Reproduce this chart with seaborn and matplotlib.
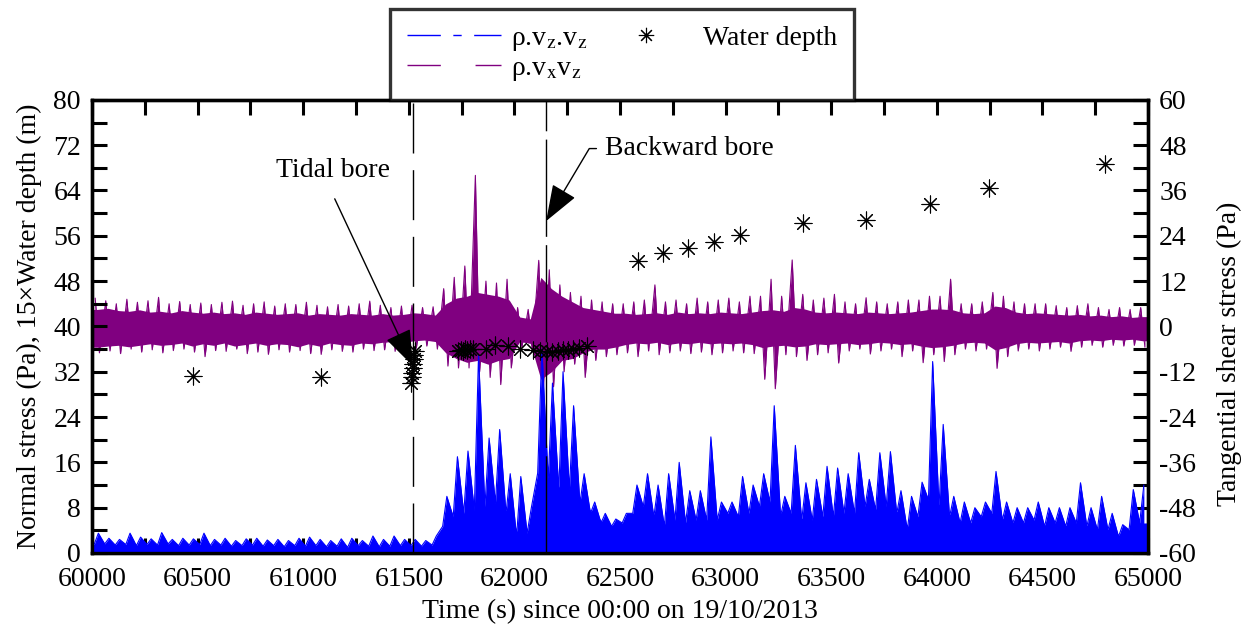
import numpy as np
import pandas as pd
import matplotlib
matplotlib.use("Agg")
import matplotlib.pyplot as plt
from matplotlib.lines import Line2D
from matplotlib.ticker import MultipleLocator
import seaborn as sns

# ====================== DATA ======================
# 50 s bins, 60000 ... 64950 s
bin_start = np.arange(60000, 65000, 50)

# tangential shear stress rho.vx.vz (Pa): dense band top / bottom, spike extremes per bin
shear_top = [4.5, 4.8, 4.2, 4.0, 4.4, 3.8, 4.0, 3.6, 4.2, 3.8,
             3.5, 3.8, 3.4, 3.6, 3.2, 3.8, 3.5, 3.2, 3.4, 3.6,
             3.0, 3.4, 3.2, 3.0, 3.4, 3.2, 3.0, 3.4, 3.0, 3.2,
             3.6, 3.4, 3.0, 6.0, 7.5, 8.0, 9.0, 8.5, 8.0, 7.0,
             2.5, 2.0, 13.0, 10.0, 8.0, 6.5, 5.0, 4.5, 4.0, 3.5,
             3.5, 3.2, 3.4, 3.6, 3.2, 3.8, 3.4, 3.6, 3.4, 3.8,
             3.6, 3.4, 3.8, 4.2, 4.4, 4.0, 5.0, 4.6, 3.8, 3.6,
             3.8, 3.6, 3.4, 3.8, 3.6, 3.4, 3.6, 3.8, 4.2, 4.6,
             4.6, 4.4, 3.6, 3.4, 3.6, 5.4, 5.0, 3.8, 3.4, 3.6,
             3.4, 3.2, 3.0, 3.2, 2.8, 3.0, 2.6, 2.8, 2.4, 2.6]
shear_bot = [-5.5, -5.2, -5.0, -5.4, -5.0, -4.6, -5.0, -4.8, -4.4, -5.2,
             -4.6, -5.0, -4.4, -5.2, -4.8, -4.4, -5.0, -4.6, -4.8, -5.4,
             -4.6, -5.2, -4.4, -4.8, -5.0, -4.4, -4.6, -4.2, -4.0, -4.2,
             -3.8, -3.6, -4.0, -7.0, -8.5, -9.5, -9.0, -10.0, -9.0, -8.5,
             -4.0, -4.5, -14.0, -12.0, -9.0, -8.5, -7.0, -6.0, -6.0, -5.5,
             -4.8, -4.4, -4.6, -4.2, -4.8, -4.4, -4.6, -4.2, -4.6, -4.4,
             -4.6, -4.4, -4.8, -5.6, -5.2, -5.0, -5.4, -5.2, -4.6, -4.8,
             -4.6, -4.4, -4.8, -4.6, -4.2, -4.4, -4.8, -4.6, -5.2, -5.6,
             -5.4, -5.0, -4.4, -4.2, -4.4, -6.2, -5.6, -4.6, -4.2, -4.4,
             -4.2, -4.0, -4.4, -3.8, -3.6, -3.8, -3.4, -3.6, -3.4, -3.8]
shear_up = [7.5, 6.8, 6.0, 7.2, 6.4, 6.8, 7.7, 6.0, 6.6, 5.8,
            6.2, 5.8, 6.4, 6.7, 5.6, 6.0, 6.5, 5.4, 6.0, 5.8,
            6.4, 5.6, 5.2, 5.8, 5.4, 6.0, 6.7, 5.6, 5.0, 5.4,
            5.6, 5.0, 5.2, 10.0, 13.0, 16.0, 40.0, 12.0, 11.5, 12.5,
            5.0, 4.5, 17.5, 15.0, 11.0, 9.0, 8.0, 7.0, 6.5, 6.0,
            6.0, 6.5, 7.0, 11.0, 6.5, 7.0, 6.0, 7.5, 6.5, 7.0,
            7.5, 6.5, 8.0, 8.0, 12.5, 8.0, 17.6, 8.5, 7.0, 7.5,
            8.5, 6.5, 6.0, 7.6, 6.5, 6.0, 6.5, 7.0, 7.0, 8.0,
            8.0, 12.5, 6.0, 6.0, 6.5, 9.0, 8.0, 6.5, 6.0, 6.0,
            6.0, 5.5, 5.0, 5.5, 6.0, 5.0, 4.5, 5.0, 4.5, 5.0]
shear_dn = [-7.0, -6.5, -7.2, -6.0, -6.8, -6.2, -7.0, -6.4, -6.0, -6.8,
            -8.0, -6.4, -6.6, -6.0, -7.2, -6.8, -7.4, -6.2, -6.8, -6.4,
            -7.2, -7.4, -6.2, -6.6, -6.8, -6.0, -6.4, -6.2, -6.6, -7.0,
            -5.8, -5.2, -6.0, -10.5, -11.0, -11.0, -12.0, -13.5, -15.4, -11.0,
            -5.5, -6.0, -18.6, -16.0, -12.0, -10.0, -13.5, -9.0, -8.0, -7.5,
            -7.0, -8.0, -6.5, -7.5, -7.0, -6.5, -7.2, -6.8, -7.5, -7.0,
            -6.5, -7.0, -7.2, -14.0, -16.5, -7.5, -8.0, -9.0, -7.5, -7.0,
            -9.7, -6.5, -6.0, -7.3, -6.5, -6.0, -8.0, -6.5, -9.6, -7.5,
            -9.3, -7.5, -6.0, -6.5, -6.0, -11.1, -8.0, -6.5, -6.0, -6.5,
            -6.0, -5.5, -6.6, -5.5, -5.0, -5.5, -5.0, -5.2, -5.0, -5.5]

# normal stress rho.vz.vz (Pa): dense band top and spike peak per bin
normal_base = [1.5, 1.6, 1.4, 1.5, 1.3, 1.5, 1.4, 1.6, 1.3, 1.4,
               1.5, 1.3, 1.4, 1.2, 1.3, 1.4, 1.2, 1.3, 1.1, 1.3,
               1.2, 1.3, 1.1, 1.2, 1.0, 1.3, 1.2, 1.1, 1.2, 1.3,
               1.3, 1.2, 1.4, 4.7, 6.4, 7.0, 7.6, 8.2, 8.8, 7.0,
               2.9, 3.5, 14.1, 12.9, 11.2, 11.2, 8.8, 7.0, 5.3, 4.7,
               5.3, 7.0, 8.2, 6.4, 4.7, 5.8, 5.3, 5.8, 5.8, 5.8,
               7.0, 6.4, 7.0, 8.2, 9.0, 6.5, 7.0, 5.8, 5.8, 6.4,
               6.4, 7.0, 7.0, 8.2, 7.6, 8.2, 7.0, 4.1, 6.4, 9.4,
               8.2, 6.4, 5.3, 5.3, 6.4, 7.0, 5.8, 5.3, 5.3, 5.8,
               4.7, 5.3, 4.7, 5.3, 4.7, 4.1, 4.1, 2.9, 4.1, 5.3]
normal_peak = [3.5, 2.6, 2.4, 3.5, 2.8, 2.5, 3.6, 2.4, 2.6, 2.5,
               3.5, 2.4, 2.6, 2.2, 2.5, 2.6, 2.3, 2.4, 2.2, 2.6,
               2.8, 2.4, 2.2, 2.5, 2.6, 2.2, 3.0, 2.4, 3.0, 2.4,
               2.4, 2.2, 3.0, 10.0, 17.0, 18.0, 35.0, 20.3, 21.8, 14.0,
               13.5, 8.0, 36.0, 30.0, 32.0, 26.0, 14.0, 9.0, 7.0, 6.0,
               7.0, 12.0, 14.0, 12.0, 14.0, 16.0, 11.0, 11.0, 20.5, 9.0,
               9.0, 13.5, 12.0, 14.0, 26.0, 10.0, 19.0, 12.4, 13.0, 15.3,
               15.0, 14.0, 17.7, 13.0, 17.7, 17.9, 11.0, 10.0, 12.5, 33.8,
               22.7, 10.0, 9.0, 8.0, 9.0, 14.4, 9.0, 8.0, 8.0, 9.0,
               8.0, 8.0, 8.0, 12.4, 8.0, 10.0, 7.0, 5.0, 11.2, 12.0]

# 15 x water depth (m)
depth_time = [60480, 61085,
              61512, 61515, 61517, 61519, 61521, 61523, 61525, 61528,
              61735, 61745, 61755, 61765, 61775, 61790, 61805,
              61865, 61908, 61970, 62027, 62088, 62121,
              62153, 62176, 62208, 62232, 62255, 62279, 62307, 62342,
              62583, 62704, 62824, 62943, 63067, 63366, 63665, 63968, 64247, 64796]
depth_value = [31.2, 31.0,
               30.1, 31.0, 31.8, 32.6, 33.4, 34.2, 34.9, 35.6,
               35.6, 35.9, 35.7, 36.0, 35.8, 36.1, 36.0,
               36.1, 36.8, 36.5, 36.1, 35.9, 35.6,
               35.6, 35.5, 35.6, 35.8, 35.9, 36.1, 36.2, 36.6,
               51.5, 52.9, 53.8, 54.9, 56.1, 58.2, 58.8, 61.6, 64.4, 68.7]

tidal_bore_t = 61520
backward_bore_t = 62150

BLUE = "#0000ff"
PURPLE = "#800080"

# ====================== STYLE ======================
sns.set_style("ticks")
plt.rcParams["font.family"] = ["Liberation Serif", "DejaVu Serif"]
plt.rcParams["mathtext.fontset"] = "stix"
plt.rcParams["axes.unicode_minus"] = False
for key in ("text.color", "axes.labelcolor", "xtick.color", "ytick.color", "axes.edgecolor"):
    plt.rcParams[key] = "black"

fig, ax = plt.subplots(figsize=(12.52, 6.32), dpi=100)
fig.subplots_adjust(left=0.0735, right=0.917, top=0.842, bottom=0.125)
ax2 = ax.twinx()
# left axis (blue, depth, markers) drawn above the purple one
ax.set_zorder(ax2.get_zorder() + 1)
ax.patch.set_visible(False)

# envelope positions (bin centres, padded to the axis ends)
t_env = np.r_[60000, bin_start + 25, 65000]

def pad(v):
    return np.r_[v[0], v, v[-1]]

# shear stress (right axis): dense band + trace through the spike extremes
shear_trace = pd.DataFrame({
    "t": np.ravel(np.column_stack([bin_start + 15, bin_start + 35])),
    "v": np.ravel(np.column_stack([shear_up, shear_dn])),
})
ax2.fill_between(t_env, pad(shear_bot), pad(shear_top), color=PURPLE, lw=0)
ax2.fill_between(shear_trace["t"], 0, shear_trace["v"], color=PURPLE, lw=0)
sns.lineplot(data=shear_trace, x="t", y="v", ax=ax2, color=PURPLE, lw=0.8,
             sort=False, estimator=None)

# normal stress (left axis): dense band + trace through the peaks
normal_trace = pd.DataFrame({
    "t": np.ravel(np.column_stack([bin_start + 10, bin_start + 30])),
    "v": np.ravel(np.column_stack([normal_base, normal_peak])),
})
ax.fill_between(t_env, 0, pad(normal_base), color=BLUE, lw=0)
ax.fill_between(normal_trace["t"], 0, normal_trace["v"], color=BLUE, lw=0)
sns.lineplot(data=normal_trace, x="t", y="v", ax=ax, color=BLUE, lw=0.8,
             sort=False, estimator=None)

# water depth
sns.scatterplot(x=depth_time, y=depth_value, ax=ax, marker=(8, 2, 0),
                s=150, color="black", linewidth=0.8, zorder=5, legend=False)

# bore markers
ax.axvline(tidal_bore_t, color="black", lw=1.0, ls=(0, (36, 12)), zorder=4)
ax.axvline(backward_bore_t, color="black", lw=1.0, ls=(0, (70, 6)), zorder=4)

ax.annotate("Tidal bore", xy=(tidal_bore_t, 33.0), xytext=(61141, 67.5),
            ha="center", va="center", fontsize=20,
            arrowprops=dict(arrowstyle="-|>,head_length=1.15,head_width=0.42",
                            connectionstyle="arc,angleA=-90,armA=12,angleB=0,armB=0,rad=0",
                            relpos=(0.5, 0), shrinkA=9, shrinkB=0,
                            color="black", lw=1.0, mutation_scale=20))
ax.annotate("Backward bore", xy=(backward_bore_t, 58.6), xytext=(62430, 71.4),
            ha="left", va="center", fontsize=20,
            arrowprops=dict(arrowstyle="-|>,head_length=1.15,head_width=0.42",
                            connectionstyle="arc,angleA=180,armA=16,angleB=0,armB=0,rad=0",
                            relpos=(0, 0.5), shrinkA=4, shrinkB=0,
                            color="black", lw=1.0, mutation_scale=20))

# ====================== AXES ======================
ax.set_xlim(60000, 65000)
ax.set_ylim(0, 80)
ax2.set_ylim(-60, 60)
ax.xaxis.set_major_locator(MultipleLocator(500))
ax.xaxis.set_minor_locator(MultipleLocator(250))
ax.yaxis.set_major_locator(MultipleLocator(8))
ax.yaxis.set_minor_locator(MultipleLocator(4))
ax2.yaxis.set_major_locator(MultipleLocator(12))
ax2.yaxis.set_minor_locator(MultipleLocator(6))

ax.tick_params(which="both", direction="in", length=11, width=2.2,
               top=True, right=False, labelsize=20, pad=8)
ax.tick_params(axis="x", pad=10)
ax2.tick_params(which="both", direction="in", length=11, width=2.2,
                labelsize=20, pad=8)
for a in (ax, ax2):
    for sp in a.spines.values():
        sp.set_linewidth(2.4)
        sp.set_color("black")

ax.set_xlabel("Time (s) since 00:00 on 19/10/2013", fontsize=20, labelpad=5)
ax.set_ylabel("Normal stress (Pa), 15\u00d7Water depth (m)", fontsize=20, labelpad=8)
ax2.set_ylabel("Tangential shear stress (Pa)", fontsize=20)
ax2.yaxis.set_label_coords(1.065, 0.44)

# ====================== LEGEND ======================
handles = [
    Line2D([], [], color=BLUE, lw=1.0, ls=(0, (24, 9, 6, 9))),
    Line2D([], [], color=PURPLE, lw=1.0, ls=(0, (24, 25))),
    Line2D([], [], color="black", lw=0, marker=(8, 2, 0), markersize=11, markeredgewidth=0.8),
]
labels = ["\u03c1.v$_\\mathrm{z}$.v$_\\mathrm{z}$",
          "\u03c1.v$_\\mathrm{x}$v$_\\mathrm{z}$",
          "Water depth"]
leg = ax.legend(handles, labels, ncol=2, loc="lower left",
                bbox_to_anchor=((390 - 92) / 1056, 1.0), borderaxespad=0,
                fontsize=20, handlelength=3.4, handletextpad=0.36,
                columnspacing=0.4, labelspacing=0.1, borderpad=0.6,
                frameon=True, fancybox=False)
leg.get_frame().set_edgecolor("black")
leg.get_frame().set_linewidth(2.4)

plt.savefig("out.png", dpi=100)
